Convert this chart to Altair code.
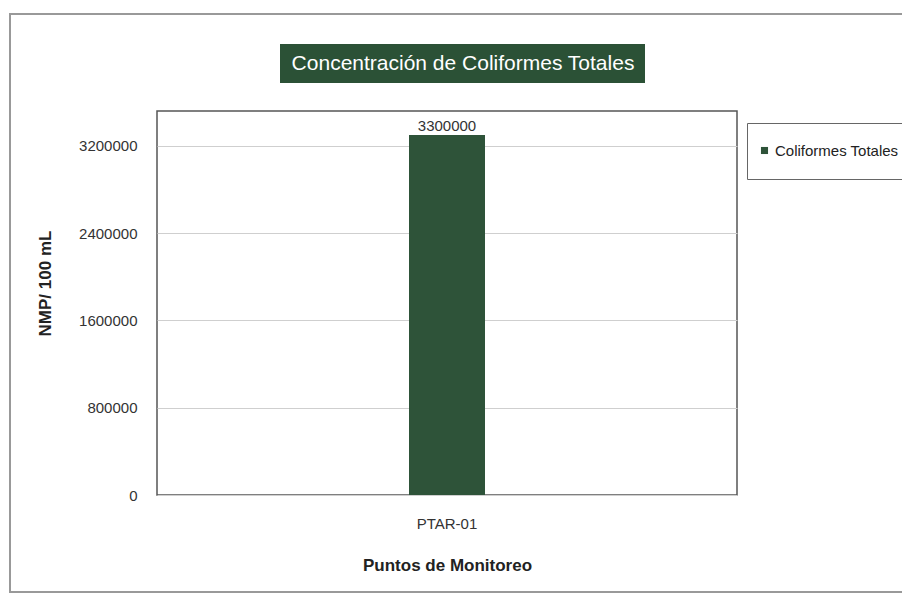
import altair as alt
import pandas as pd

categories = ["PTAR-01"]
values = [3300000]
series = ["Coliformes Totales"]
y_ticks = [0, 800000, 1600000, 2400000, 3200000]

FONT = "Liberation Sans Narrow, Arial Narrow, Liberation Sans, Arial, sans-serif"
GREEN = "#2e5339"

df = pd.DataFrame({"punto": categories, "valor": values, "serie": series})

W, H = 580, 384
L, T = 157, 111

base = alt.Chart(df)

bars = base.mark_bar(size=76, color=GREEN).encode(
    x=alt.X("punto:N", title="Puntos de Monitoreo",
            axis=alt.Axis(labelAngle=0, labelFontSize=15, labelFont=FONT, labelColor="#333",
                          titleFont=FONT, titleFontSize=17, titleFontWeight="bold",
                          titleColor="#222", titlePadding=26, labelPadding=21,
                          ticks=False, domain=False)),
    y=alt.Y("valor:Q", title="NMP/ 100 mL",
            scale=alt.Scale(domain=[0, 3520000], nice=False),
            axis=alt.Axis(values=y_ticks, format="d", labelFontSize=15, labelFont=FONT,
                          labelColor="#333", labelPadding=20, ticks=False, domain=False,
                          gridColor="#cfcfcf", gridWidth=1,
                          titleFont=FONT, titleFontSize=17, titleFontWeight="bold",
                          titleColor="#222", titlePadding=24, titleY=172)),
    fill=alt.Fill("serie:N", scale=alt.Scale(range=[GREEN]),
                  legend=alt.Legend(title=None, orient="none", legendX=590, legendY=12,
                                    strokeColor="#666", fillColor="white", padding=20,
                                    labelFont=FONT, labelFontSize=15, labelColor="#222",
                                    symbolType="square", symbolSize=50, symbolStrokeWidth=0,
                                    labelLimit=300, symbolOffset=-10, labelOffset=3)),
)

labels = base.mark_text(dy=-9, fontSize=15, font=FONT, color="#333").encode(
    x="punto:N", y="valor:Q", text=alt.Text("valor:Q", format="d"))

frame = base.mark_rect(fill=None, stroke="#999", strokeWidth=2, clip=False).encode(
    x=alt.value(10 - L), x2=alt.value(1000), y=alt.value(14 - T), y2=alt.value(592 - T))

title_box = base.mark_rect(fill="#2b5136", clip=False).encode(
    x=alt.value(280 - L), x2=alt.value(645 - L), y=alt.value(44 - T), y2=alt.value(83 - T))

title_text = base.mark_text(font=FONT, fontSize=21, color="white", fontWeight="normal",
                            align="center", baseline="middle", clip=False).encode(
    x=alt.value(463 - L), y=alt.value(64 - T), text=alt.value("Concentración de Coliformes Totales"))

chart = alt.layer(frame, title_box, title_text, bars, labels).properties(
    width=W, height=H,
    autosize=alt.AutoSizeParams(type="none"),
    padding={"left": L, "top": T, "right": 902 - L - W, "bottom": 593 - T - H},
    background="white",
).configure_view(stroke="#555", strokeWidth=1.5)

chart.save("out.html", embed_options={"renderer": "svg", "actions": False})
